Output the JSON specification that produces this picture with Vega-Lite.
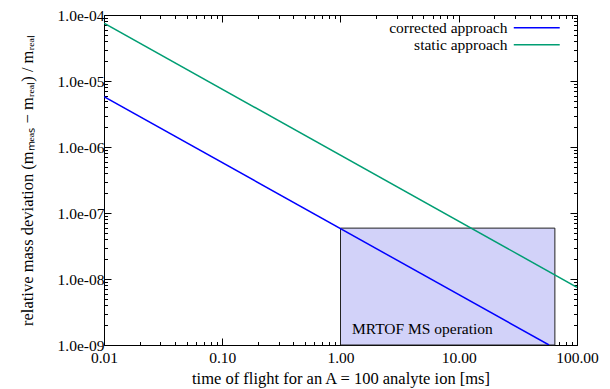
{
  "$schema": "https://vega.github.io/schema/vega-lite/v6.json",
  "width": 473,
  "height": 330,
  "autosize": "none",
  "padding": {"left": 104, "top": 15, "right": 33, "bottom": 44},
  "background": "white",
  "config": {
    "font": "Liberation Serif",
    "view": {"stroke": "black", "strokeWidth": 1},
    "axis": {
      "domainColor": "black", "tickColor": "black", "labelColor": "black", "titleColor": "black",
      "labelFont": "Liberation Serif", "titleFont": "Liberation Serif",
      "labelFontSize": 15.5, "titleFontSize": 16.5, "titleFontWeight": "normal", "grid": false
    }
  },
  "datasets": {
    "lines": [
      {"t": 0.01, "dev": 5.8e-6, "series": "corrected approach"},
      {"t": 58, "dev": 1e-9, "series": "corrected approach"},
      {"t": 0.01, "dev": 7.5e-5, "series": "static approach"},
      {"t": 100, "dev": 7.5e-9, "series": "static approach"}
    ],
    "box": [{"t0": 1, "t1": 65, "d0": 1e-9, "d1": 5.9e-8}],
    "note": [{"t": 1.25, "dev": 1.75e-9, "label": "MRTOF MS operation"}]
  },
  "layer": [
    {
      "data": {"name": "box"},
      "mark": {"type": "rect", "fill": "#d2d2f9", "stroke": "#222222", "strokeWidth": 1},
      "encoding": {
        "x": {"field": "t0", "type": "quantitative",
          "scale": {"type": "log", "domain": [0.01, 100]},
          "axis": {"orient": "top", "labels": false, "title": null, "domain": false,
            "values": [0.01,0.02,0.03,0.04,0.05,0.06,0.07,0.08,0.09,0.1,0.2,0.3,0.4,0.5,0.6,0.7,0.8,0.9,1,2,3,4,5,6,7,8,9,10,20,30,40,50,60,70,80,90,100],
            "tickSize": {"condition": {"test": "abs(log(datum.value)/LN10 - round(log(datum.value)/LN10)) < 0.01", "value": -7}, "value": -3.5}}},
        "x2": {"field": "t1"},
        "y": {"field": "d0", "type": "quantitative",
          "scale": {"type": "log", "domain": [1e-9, 1e-4]},
          "axis": {"orient": "right", "labels": false, "title": null, "domain": false,
            "values": [1e-9,2e-9,3e-9,4e-9,5e-9,6e-9,7e-9,8e-9,9e-9,1e-8,2e-8,3e-8,4e-8,5e-8,6e-8,7e-8,8e-8,9e-8,1e-7,2e-7,3e-7,4e-7,5e-7,6e-7,7e-7,8e-7,9e-7,1e-6,2e-6,3e-6,4e-6,5e-6,6e-6,7e-6,8e-6,9e-6,1e-5,2e-5,3e-5,4e-5,5e-5,6e-5,7e-5,8e-5,9e-5,1e-4],
            "tickSize": {"condition": {"test": "abs(log(datum.value)/LN10 - round(log(datum.value)/LN10)) < 0.01", "value": -7}, "value": -3.5}}},
        "y2": {"field": "d1"}
      }
    },
    {
      "data": {"name": "lines"},
      "mark": {"type": "line", "strokeWidth": 1.5, "clip": true},
      "encoding": {
        "x": {"field": "t", "type": "quantitative",
          "scale": {"type": "log", "domain": [0.01, 100]},
          "axis": {"orient": "bottom", "title": "time of flight for an A = 100 analyte ion [ms]",
            "values": [0.01,0.02,0.03,0.04,0.05,0.06,0.07,0.08,0.09,0.1,0.2,0.3,0.4,0.5,0.6,0.7,0.8,0.9,1,2,3,4,5,6,7,8,9,10,20,30,40,50,60,70,80,90,100],
            "labelExpr": "abs(log(datum.value)/LN10 - round(log(datum.value)/LN10)) < 0.01 ? format(datum.value, '.2f') : ''",
            "labelPadding": 12, "titlePadding": 1, "labelFlush": false, "labelOverlap": false,
            "tickSize": {"condition": {"test": "abs(log(datum.value)/LN10 - round(log(datum.value)/LN10)) < 0.01", "value": -7}, "value": -3.5}}},
        "y": {"field": "dev", "type": "quantitative",
          "scale": {"type": "log", "domain": [1e-9, 1e-4]},
          "axis": {"orient": "left", "title": "relative mass deviation (mₘₑₐₛ − mᵣₑₐₗ) / mᵣₑₐₗ",
            "values": [1e-9,2e-9,3e-9,4e-9,5e-9,6e-9,7e-9,8e-9,9e-9,1e-8,2e-8,3e-8,4e-8,5e-8,6e-8,7e-8,8e-8,9e-8,1e-7,2e-7,3e-7,4e-7,5e-7,6e-7,7e-7,8e-7,9e-7,1e-6,2e-6,3e-6,4e-6,5e-6,6e-6,7e-6,8e-6,9e-6,1e-5,2e-5,3e-5,4e-5,5e-5,6e-5,7e-5,8e-5,9e-5,1e-4],
            "labelExpr": "abs(log(datum.value)/LN10 - round(log(datum.value)/LN10)) < 0.01 ? '1.0e-0' + round(-log(datum.value)/LN10) : ''",
            "labelPadding": 7, "titlePadding": 22, "labelFlush": false, "labelOverlap": false,
            "tickSize": {"condition": {"test": "abs(log(datum.value)/LN10 - round(log(datum.value)/LN10)) < 0.01", "value": -7}, "value": -3.5}}},
        "color": {"field": "series", "type": "nominal",
          "scale": {"domain": ["corrected approach", "static approach"], "range": ["#0000ff", "#009e73"]},
          "legend": {"orient": "none", "legendX": 425, "legendY": 5, "title": null,
            "symbolType": "M-4,0H4", "symbolSize": 132, "symbolStrokeWidth": 1.5,
            "labelAlign": "right", "labelOffset": -37, "labelFontSize": 15.5, "labelFont": "Liberation Serif",
            "labelColor": "black", "rowPadding": -3}}
      }
    },
    {
      "data": {"name": "note"},
      "mark": {"type": "text", "align": "left", "baseline": "middle", "fontSize": 15.5, "font": "Liberation Serif", "color": "black"},
      "encoding": {
        "x": {"field": "t", "type": "quantitative", "scale": {"type": "log", "domain": [0.01, 100]}, "axis": null},
        "y": {"field": "dev", "type": "quantitative", "scale": {"type": "log", "domain": [1e-9, 1e-4]}, "axis": null},
        "text": {"field": "label"}
      }
    }
  ],
  "resolve": {"axis": {"x": "independent", "y": "independent"}}
}
